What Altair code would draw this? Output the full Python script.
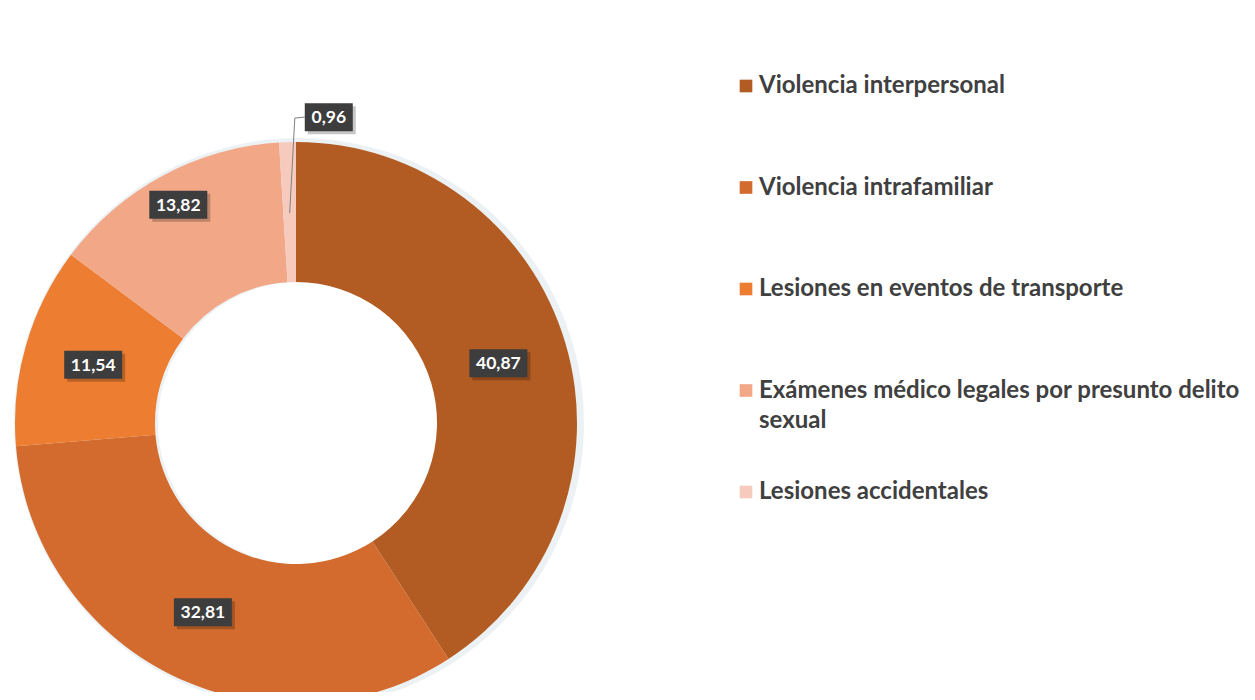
import altair as alt
import pandas as pd

# ---- data ----
categories = [
    "Violencia interpersonal",
    "Violencia intrafamiliar",
    "Lesiones en eventos de transporte",
    "Exámenes médico legales por presunto delito sexual",
    "Lesiones accidentales",
]
legend_labels = [
    "Violencia interpersonal",
    "Violencia intrafamiliar",
    "Lesiones en eventos de transporte",
    "Exámenes médico legales por presunto delito\nsexual",
    "Lesiones accidentales",
]
values = [40.87, 32.81, 11.54, 13.82, 0.96]
colors = ["#B25B22", "#D26B2D", "#EC7D31", "#F2A887", "#F6CBBE"]

df = pd.DataFrame({"category": categories, "legend": legend_labels, "value": values})
df["end"] = df["value"].cumsum()
df["start"] = df["end"] - df["value"]
df["mid"] = df["start"] + df["value"] / 2

# ---- layout ----
W, H = 1239, 684
CX, CY = 288, 415
xs = alt.Scale(domain=[-CX, W - CX])
ys = alt.Scale(domain=[CY - H, CY])
theta_scale = alt.Scale(domain=[0, 100])
color = alt.Color("category:N", scale=alt.Scale(domain=categories, range=colors), legend=None)
FONT = "Lato"

base = alt.Chart(df)

glow = base.mark_arc(innerRadius=141, outerRadius=285, color="#E4EBF0", opacity=0.7).encode(
    theta=alt.Theta("start:Q", scale=theta_scale),
    theta2="end:Q",
    x=alt.XDatum(3, type="quantitative", scale=xs, axis=None),
    y=alt.YDatum(0, type="quantitative", scale=ys, axis=None),
)

arcs = base.mark_arc(innerRadius=141, outerRadius=281).encode(
    theta=alt.Theta("start:Q", scale=theta_scale),
    theta2="end:Q",
    color=color,
    x=alt.XDatum(0, type="quantitative", scale=xs, axis=None),
    y=alt.YDatum(0, type="quantitative", scale=ys, axis=None),
)

big_cat = categories[3]
labels = base.transform_calculate(
    ang="datum.mid * 2 * PI / 100",
    r=f"datum.value < 2 ? 306 : (datum.category == '{big_cat}' ? 248 : 211)",
    shift="datum.value < 2 ? 42 : 0",
    lx="datum.r * sin(datum.ang) + datum.shift",
    ly="datum.r * cos(datum.ang)",
    label="replace(format(datum.value, '.2f'), '.', ',')",
    bw="datum.value < 10 ? 48 : 58",
    x1="datum.lx - datum.bw / 2",
    x2="datum.lx + datum.bw / 2",
    y1="datum.ly - 14",
    y2="datum.ly + 14",
    sx1="datum.x1 + 3",
    sx2="datum.x2 + 3",
    sy1="datum.y1 - 3",
    sy2="datum.y2 - 3",
)

shadow = labels.mark_rect(color="#000000", opacity=0.22).encode(
    x=alt.X("sx1:Q", scale=xs, axis=None), x2="sx2:Q",
    y=alt.Y("sy1:Q", scale=ys, axis=None), y2="sy2:Q",
)
boxes = labels.mark_rect(color="#3D3D3D").encode(
    x=alt.X("x1:Q", scale=xs, axis=None), x2="x2:Q",
    y=alt.Y("y1:Q", scale=ys, axis=None), y2="y2:Q",
)
texts = labels.mark_text(font=FONT, fontWeight="bold", fontSize=17.5, color="white", dy=1).encode(
    x=alt.X("lx:Q", scale=xs, axis=None),
    y=alt.Y("ly:Q", scale=ys, axis=None),
    text="label:N",
)

leader = labels.transform_filter("datum.value < 2").transform_calculate(
    ax="210 * sin(datum.ang)",
    ay="210 * cos(datum.ang)",
    bx="305 * sin(datum.ang) + 8",
    by="305 * cos(datum.ang)",
    cx="datum.x1",
    cy="datum.ly",
)
leader1 = leader.mark_rule(color="#808080", strokeWidth=1).encode(
    x=alt.X("ax:Q", scale=xs, axis=None), x2="bx:Q",
    y=alt.Y("ay:Q", scale=ys, axis=None), y2="by:Q",
)
leader2 = leader.mark_rule(color="#808080", strokeWidth=1).encode(
    x=alt.X("bx:Q", scale=xs, axis=None), x2="cx:Q",
    y=alt.Y("by:Q", scale=ys, axis=None), y2="cy:Q",
)

leg_y = alt.Y("category:N", scale=alt.Scale(type="point", domain=categories, range=[78, 484], padding=0), axis=None)
leg_sym = base.mark_point(shape="square", filled=True, size=160, opacity=1).encode(
    x=alt.value(738), y=leg_y, color=color,
)
leg_txt = base.mark_text(
    align="left", baseline="middle", font=FONT, fontWeight="bold", fontSize=24,
    color="#404040", lineBreak="\n", lineHeight=30,
).encode(x=alt.value(751), y=leg_y, text="legend:N")

chart = alt.layer(
    glow, arcs, shadow, boxes, texts, leader1, leader2, leg_sym, leg_txt
).resolve_scale(
    x="independent", y="independent"
).properties(
    width=W, height=H, padding=0,
    autosize=alt.AutoSizeParams(type="none"),
    background="white",
).configure_view(stroke=None)

chart.save("out.html", embed_options={"renderer": "svg", "actions": False})
